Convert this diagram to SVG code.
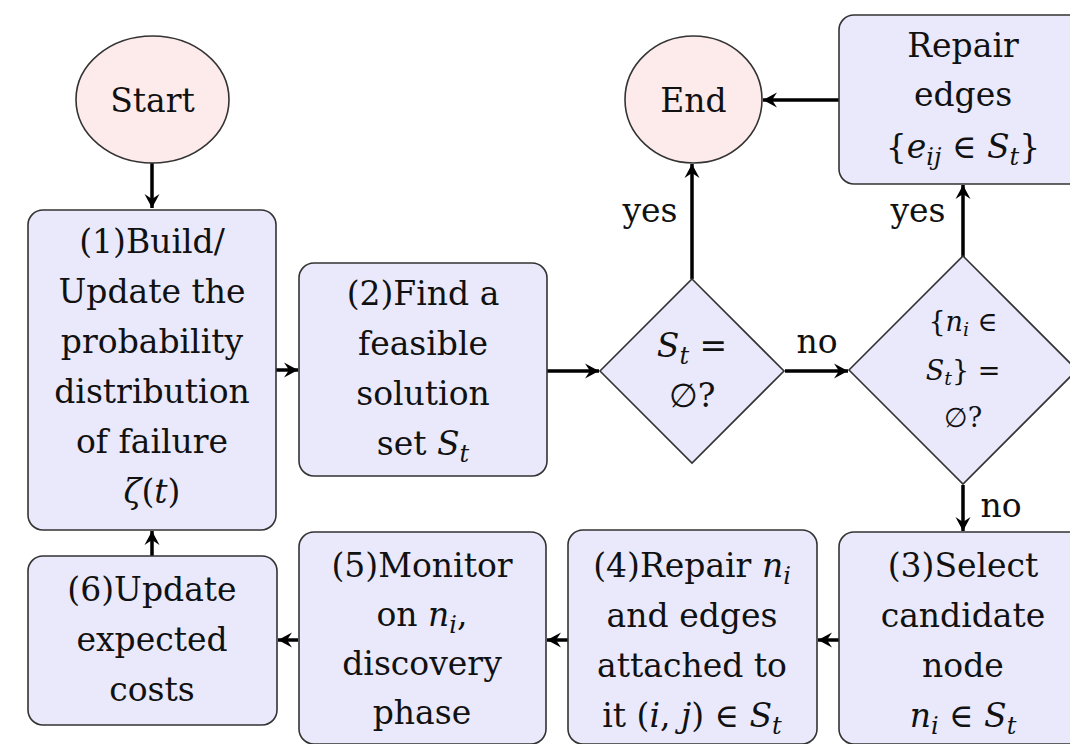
<svg xmlns="http://www.w3.org/2000/svg" width="1070" height="744" viewBox="0 0 1070 744">
<defs>
<style>
.box{fill:#E9E9FB;stroke:#333;stroke-width:1.6}
.term{fill:#FDEBEB;stroke:#333;stroke-width:1.6}
.t{font-family:"DejaVu Serif",serif;font-size:33px;fill:#111;text-anchor:middle}
.s{font-size:27px}
.i{font-style:italic}
.sub{font-style:italic;font-size:24px}
.subs{font-style:italic;font-size:19px}
.conn{stroke:#000;stroke-width:3.5;fill:none;marker-end:url(#ah)}
</style>
<marker id="ah" markerUnits="userSpaceOnUse" viewBox="-15 -9 17 18" refX="0" refY="0" markerWidth="17" markerHeight="18" orient="auto">
<path d="M0,0 L-14,-7.5 L-9,0 L-14,7.5 Z" fill="#000"/>
</marker>
</defs>
<rect width="1070" height="744" fill="#fff"/>

<g id="connectors">
<line class="conn" x1="152" y1="163" x2="152" y2="208"/>
<line class="conn" x1="276" y1="370" x2="298" y2="370"/>
<line class="conn" x1="547" y1="371" x2="599" y2="371"/>
<line class="conn" x1="692" y1="279" x2="692" y2="164"/>
<line class="conn" x1="785" y1="371" x2="848" y2="371"/>
<line class="conn" x1="963" y1="257" x2="963" y2="185"/>
<line class="conn" x1="839" y1="100" x2="763" y2="100"/>
<line class="conn" x1="963" y1="485" x2="963" y2="531"/>
<line class="conn" x1="839" y1="640" x2="818" y2="640"/>
<line class="conn" x1="568" y1="640" x2="547" y2="640"/>
<line class="conn" x1="298" y1="640" x2="278" y2="640"/>
<line class="conn" x1="152" y1="556" x2="152" y2="531"/>
<text class="t" x="650" y="222">yes</text>
<text class="t" x="918" y="222">yes</text>
<text class="t" x="817" y="353">no</text>
<text class="t" x="1001" y="517">no</text>
</g>

<g id="start">
<ellipse class="term" cx="152.5" cy="99.5" rx="76.5" ry="63.5"/>
<text class="t" x="152.5" y="112">Start</text>
</g>

<g id="end">
<ellipse class="term" cx="693.5" cy="99.5" rx="68.5" ry="63.5"/>
<text class="t" x="693.5" y="112">End</text>
</g>

<g id="step1">
<rect class="box" x="28" y="210" width="248" height="320" rx="15"/>
<text class="t" x="152" y="253">(1)Build/</text>
<text class="t" x="152" y="303">Update the</text>
<text class="t" x="152" y="353">probability</text>
<text class="t" x="152" y="403">distribution</text>
<text class="t" x="152" y="453">of failure</text>
<text class="t" x="152" y="503"><tspan class="i">ζ</tspan>(<tspan class="i">t</tspan>)</text>
</g>

<g id="step2">
<rect class="box" x="299" y="263" width="248" height="213" rx="15"/>
<text class="t" x="423" y="305">(2)Find a</text>
<text class="t" x="423" y="355">feasible</text>
<text class="t" x="423" y="405">solution</text>
<text class="t" x="423" y="455">set <tspan class="i">S</tspan><tspan class="sub" dy="7">t</tspan></text>
</g>

<g id="decision1">
<polygon class="box" points="692,279 784,371 692,463 600,371"/>
<text class="t" x="692" y="357"><tspan class="i">S</tspan><tspan class="sub" dy="7">t</tspan><tspan dy="-7"> =</tspan></text>
<text class="t" x="692" y="407">∅?</text>
</g>

<g id="decision2">
<polygon class="box" points="963,256 1077,370 963,484 849,370"/>
<text class="t s" x="963" y="331">{<tspan class="i">n</tspan><tspan class="subs" dy="5">i</tspan><tspan dy="-5"> ∈</tspan></text>
<text class="t s" x="963" y="380"><tspan class="i">S</tspan><tspan class="subs" dy="5">t</tspan><tspan dy="-5">} =</tspan></text>
<text class="t s" x="963" y="427">∅?</text>
</g>

<g id="repair-edges">
<rect class="box" x="839" y="15" width="250" height="169" rx="15"/>
<text class="t" x="963" y="57">Repair</text>
<text class="t" x="963" y="106">edges</text>
<text class="t" x="963" y="158">{<tspan class="i">e</tspan><tspan class="sub" dy="7">ij</tspan><tspan dy="-7"> ∈ </tspan><tspan class="i">S</tspan><tspan class="sub" dy="7">t</tspan><tspan dy="-7">}</tspan></text>
</g>

<g id="step3">
<rect class="box" x="839" y="532" width="250" height="212" rx="15"/>
<text class="t" x="963" y="577">(3)Select</text>
<text class="t" x="963" y="627">candidate</text>
<text class="t" x="963" y="677">node</text>
<text class="t" x="963" y="727"><tspan class="i">n</tspan><tspan class="sub" dy="7">i</tspan><tspan dy="-7"> ∈ </tspan><tspan class="i">S</tspan><tspan class="sub" dy="7">t</tspan></text>
</g>

<g id="step4">
<rect class="box" x="568" y="530" width="249" height="214" rx="15"/>
<text class="t" x="692" y="577">(4)Repair <tspan class="i">n</tspan><tspan class="sub" dy="7">i</tspan></text>
<text class="t" x="692" y="627">and edges</text>
<text class="t" x="692" y="677">attached to</text>
<text class="t" x="692" y="727">it (<tspan class="i">i</tspan>, <tspan class="i">j</tspan>) ∈ <tspan class="i">S</tspan><tspan class="sub" dy="7">t</tspan></text>
</g>

<g id="step5">
<rect class="box" x="299" y="532" width="247" height="212" rx="15"/>
<text class="t" x="422" y="577">(5)Monitor</text>
<text class="t" x="422" y="626">on <tspan class="i">n</tspan><tspan class="sub" dy="7">i</tspan><tspan dy="-7">,</tspan></text>
<text class="t" x="422" y="675">discovery</text>
<text class="t" x="422" y="724">phase</text>
</g>

<g id="step6">
<rect class="box" x="28" y="556" width="249" height="169" rx="15"/>
<text class="t" x="152" y="601">(6)Update</text>
<text class="t" x="152" y="651">expected</text>
<text class="t" x="152" y="701">costs</text>
</g>
</svg>
